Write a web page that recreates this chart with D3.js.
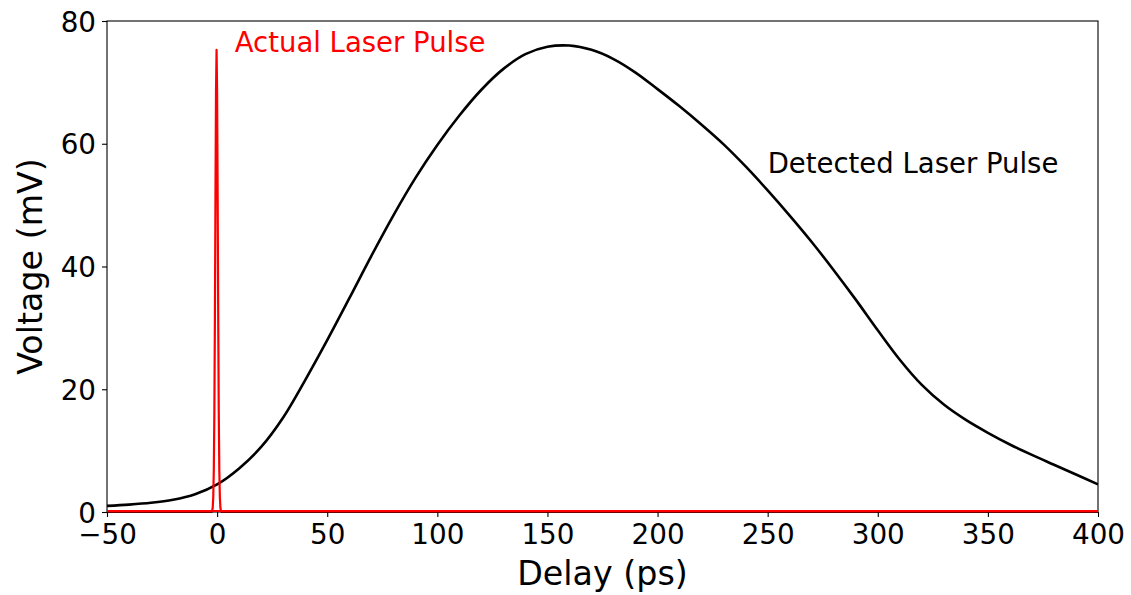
<!DOCTYPE html>
<html>
<head>
<meta charset="utf-8">
<script src="https://cdn.jsdelivr.net/npm/d3@7"></script>
<style>
  html, body { margin: 0; padding: 0; background: #fff; }
  svg { display: block; font-family: "DejaVu Sans", sans-serif; }
</style>
</head>
<body>
<svg id="chart" width="1131" height="595"></svg>
<script>
// Detected (photodiode) pulse, delay in ps and voltage in mV
const detectedDelay = [-50, -40, -30, -20, -10, 0, 10, 20, 30, 40, 50, 60, 70, 80, 90, 100,
  110, 120, 130, 140, 150, 160, 170, 180, 190, 200, 210, 220, 230, 240, 250, 260, 270,
  280, 290, 300, 310, 320, 330, 340, 350, 360, 370, 380, 390, 400];
const detectedVoltage = [1.0, 1.2, 1.5, 2.0, 2.9, 4.5, 7.1, 10.6, 15.4, 21.5, 28.0, 34.8,
  41.7, 48.3, 54.4, 59.8, 64.6, 68.8, 72.2, 74.6, 75.8, 76.0, 75.3, 73.8, 71.6, 68.9,
  66.1, 63.1, 59.9, 56.3, 52.4, 48.3, 44.0, 39.4, 34.6, 29.6, 24.8, 20.7, 17.5, 15.0,
  12.9, 11.0, 9.3, 7.7, 6.1, 4.5];

// Actual laser pulse (very short), same units
const actualDelay = [-50, -2.5, -2.25, -2.0, -1.75, -1.5, -1.25, -1.0, -0.75, -0.5, -0.25,
  0, 0.25, 0.5, 0.75, 1.0, 1.25, 1.5, 1.75, 2.0, 400];
const actualVoltage = [0, 0, 0.2, 0.7, 2.4, 6.8, 16.2, 31.7, 51.2, 68.4, 75.3,
  68.4, 51.2, 31.7, 16.2, 6.8, 2.4, 0.7, 0.2, 0, 0];

const xTicks = [-50, 0, 50, 100, 150, 200, 250, 300, 350, 400];
const yTicks = [0, 20, 40, 60, 80];

const margin = { left: 107, right: 33, top: 21, bottom: 83 };
const W = 1131, H = 595;

const svg = d3.select("#chart");
const x = d3.scaleLinear().domain([-50, 400]).range([margin.left, W - margin.right]);
const y = d3.scaleLinear().domain([0, 80]).range([H - margin.bottom, margin.top]);

svg.append("defs").append("clipPath").attr("id", "plotClip")
  .append("rect")
  .attr("x", x(-50)).attr("y", y(80) - 2)
  .attr("width", x(400) - x(-50)).attr("height", y(0) - y(80) + 4);

const smoothLine = d3.line().curve(d3.curveCatmullRom.alpha(0.5))
  .x(d => x(d[0])).y(d => y(d[1]));

const plot = svg.append("g").attr("clip-path", "url(#plotClip)");

plot.append("path")
  .datum(d3.zip(detectedDelay, detectedVoltage))
  .attr("d", smoothLine)
  .attr("fill", "none").attr("stroke", "#000").attr("stroke-width", 2.6)
  .attr("stroke-linejoin", "round");

plot.append("path")
  .datum(d3.zip(actualDelay, actualVoltage))
  .attr("d", d3.line().x(d => x(d[0])).y(d => y(d[1])))
  .attr("fill", "none").attr("stroke", "#ff0000").attr("stroke-width", 2.2)
  .attr("stroke-linejoin", "round");

// Axes
const xAxis = svg.append("g")
  .attr("transform", `translate(0,${y(0)})`)
  .call(d3.axisBottom(x).tickValues(xTicks).tickSizeOuter(0).tickSize(5).tickPadding(7));
const yAxis = svg.append("g")
  .attr("transform", `translate(${x(-50)},0)`)
  .call(d3.axisLeft(y).tickValues(yTicks).tickSizeOuter(0).tickSize(5).tickPadding(6));

[xAxis, yAxis].forEach(g => {
  g.select(".domain").remove();
  g.selectAll(".tick line").attr("stroke", "#000").attr("stroke-width", 1.1);
  g.selectAll(".tick text").attr("fill", "#000")
    .style("font-family", "DejaVu Sans").style("font-size", "27.8px");
});
xAxis.selectAll(".tick text").attr("dy", "0.72em");
yAxis.selectAll(".tick text").attr("dy", "0.36em");

// Frame
svg.append("rect")
  .attr("x", x(-50)).attr("y", y(80))
  .attr("width", x(400) - x(-50)).attr("height", y(0) - y(80))
  .attr("fill", "none").attr("stroke", "#000").attr("stroke-width", 1.1);

// Zero baseline of the laser pulse, kept above the frame
svg.append("line")
  .attr("x1", x(-50)).attr("x2", x(400))
  .attr("y1", y(0) - 1).attr("y2", y(0) - 1)
  .attr("stroke", "#ff0000").attr("stroke-width", 2);

// Axis titles
svg.append("text")
  .attr("x", (x(-50) + x(400)) / 2).attr("y", 585)
  .attr("text-anchor", "middle")
  .style("font-size", "33.3px").attr("fill", "#000")
  .text("Delay (ps)");

svg.append("text")
  .attr("transform", `translate(42,${(y(0) + y(80)) / 2}) rotate(-90)`)
  .attr("text-anchor", "middle")
  .style("font-size", "33.3px").attr("fill", "#000")
  .text("Voltage (mV)");

// Annotations
svg.append("text")
  .attr("x", x(8)).attr("y", y(75))
  .style("font-size", "27.5px").attr("fill", "#ff0000")
  .text("Actual Laser Pulse");

svg.append("text")
  .attr("x", x(250)).attr("y", y(55.2))
  .style("font-size", "27.5px").attr("fill", "#000")
  .text("Detected Laser Pulse");
</script>
</body>
</html>
